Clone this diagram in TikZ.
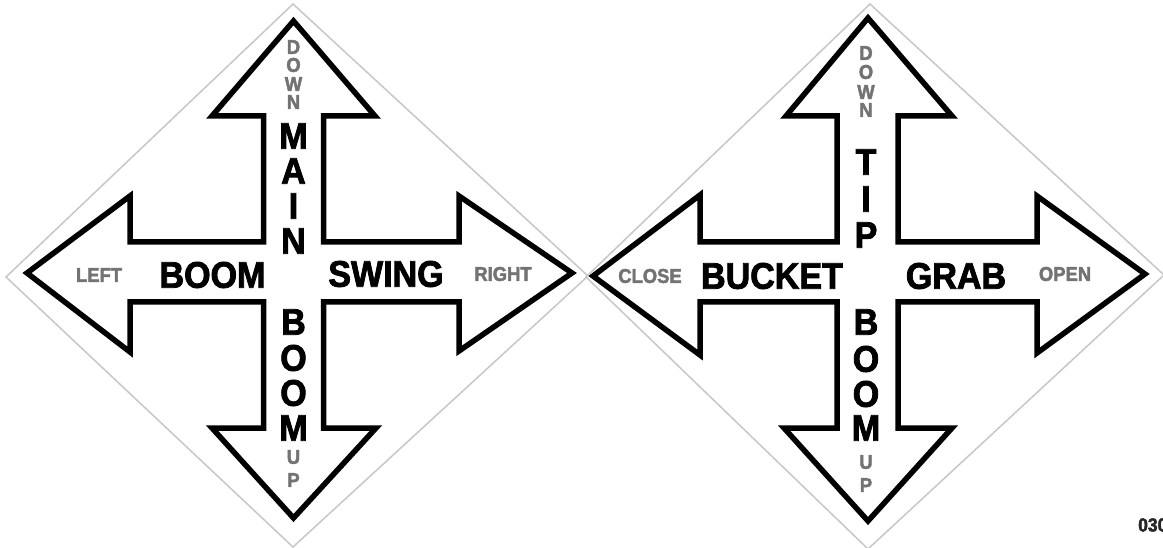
\documentclass[tikz,border=0pt]{standalone}
\usepackage{fontspec}
\setmainfont{Liberation Sans}
\newfontfamily\signfont{Liberation Sans Bold}[FakeBold=2.2,FakeStretch=0.92]
\usetikzlibrary{calc,positioning}
\definecolor{mygray}{gray}{0.45}
\definecolor{edgegray}{gray}{0.78}

\begin{document}
\begin{tikzpicture}[x=1pt,y=-1pt]
    \tikzstyle{arrowline}=[line width=5.5pt,line join=miter,fill=white]
    \tikzstyle{bigword}=[font=\signfont\fontsize{37}{37}\selectfont,
                         inner sep=0pt]
    \tikzstyle{smallword}=[font=\signfont\fontsize{20}{20}\selectfont,
                           text=mygray,inner sep=0pt]
    \tikzstyle{vletter}=[font=\signfont\fontsize{20}{20}\selectfont,
                         text=mygray,inner sep=0pt]

\useasboundingbox (0,0) rectangle (1163,548);
\clip (0,0) rectangle (1163,548);

    % the two white diamonds
    \draw [edgegray,line width=1.5pt,fill=white]
        (293,4) -- (6,277) -- (293,547) -- (588,276) -- cycle;
    \draw [edgegray,line width=1.5pt,fill=white]
        (870,4) -- (586,277) -- (868,549) -- (1164,275) -- cycle;

    % left sign: four way arrow
    \draw [arrowline] (293.5,21) -- (375,116) -- (323.5,116) -- (323.5,242)
        -- (459,242) -- (459,196) -- (572,273) -- (459,351) -- (459,302)
        -- (323.5,302) -- (323.5,428) -- (376,428) -- (293.5,518)
        -- (212,428) -- (263.5,428) -- (263.5,302) -- (130,302) -- (130,352)
        -- (27,273) -- (130,196) -- (130,242) -- (263.5,242) -- (263.5,116)
        -- (212,116) -- cycle;

    % right sign: four way arrow
    \draw [arrowline] (868,18) -- (952,116) -- (898,116) -- (898,242)
        -- (1037,242) -- (1037,196) -- (1145,274) -- (1037,353) -- (1037,302)
        -- (898,302) -- (898,428) -- (952,428) -- (868,521)
        -- (784,428) -- (837,428) -- (837,302) -- (700,302) -- (700,355)
        -- (593,276) -- (700,195) -- (700,242) -- (837,242) -- (837,116)
        -- (786,116) -- cycle;

    % words across
    \node [smallword] (left)   at (99,275)  {LEFT};
    \node [bigword]   (boomh)  at (212.5,275) {BOOM};
    \node [bigword]   (swing)  at (386,274) {SWING};
    \node [smallword] (right)  at (503,274) {RIGHT};

    \node [smallword] (close)  at (650,276) {CLOSE};
    \node [bigword]   (bucket) at (772,276) {BUCKET};
    \node [bigword]   (grab)   at (956,276) {GRAB};
    \node [smallword] (open)   at (1065,274) {OPEN};

    % words down the shaft, one letter under the other
    \foreach \l/\y [count=\i] in {D/47,O/65,W/84,N/102}
        \node [vletter] (downa\i) at (293.5,\y) {\l};
    \foreach \l/\y [count=\i] in {M/136,A/171,I/206,N/241}
        \node [bigword] (main\i) at (293.5,\y) {\l};
    \foreach \l/\y [count=\i] in {B/322,O/358,O/393,M/428}
        \node [bigword] (boomva\i) at (293.5,\y) {\l};
    \foreach \l/\y [count=\i] in {U/457,P/480}
        \node [vletter] (upa\i) at (293.5,\y) {\l};

    \foreach \l/\y [count=\i] in {D/53,O/72,W/92,N/110}
        \node [vletter] (downb\i) at (866,\y) {\l};
    \foreach \l/\y [count=\i] in {T/162,I/199,P/235}
        \node [bigword] (tip\i) at (866,\y) {\l};
    \foreach \l/\y [count=\i] in {B/322,O/359,O/394,M/428}
        \node [bigword] (boomvb\i) at (866,\y) {\l};
    \foreach \l/\y [count=\i] in {U/462,P/485}
        \node [vletter] (upb\i) at (866,\y) {\l};

    % part number, cut off at the edge
    \node [font=\signfont\fontsize{19}{19}\selectfont,text=black!85,
           inner sep=0pt,anchor=west] (partno) at (1138,525) {030};
\end{tikzpicture}
\end{document}
